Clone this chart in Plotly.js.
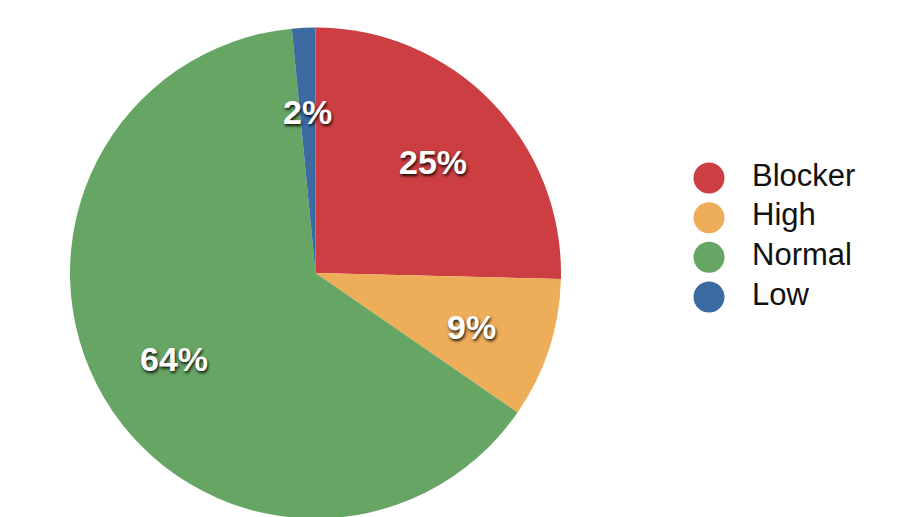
<!DOCTYPE html>
<html>
<head>
<meta charset="utf-8">
<script src="https://cdn.plot.ly/plotly-3.0.1.min.js"></script>
<style>
  html, body { margin: 0; padding: 0; width: 918px; height: 517px; overflow: hidden; background: #fff; }
  #chart { width: 918px; height: 560px; }
</style>
</head>
<body>
<div id="chart"></div>
<script>
// ---- data ----
const categories = ["Blocker", "High", "Normal", "Low"];
const counts = [33, 12, 83, 2];
const colors = ["#CD3E42", "#EEAD58", "#66A563", "#3A6AA0"];

// ---- geometry / style ----
const W = 918, H = 560;
const cxPx = 315.5, cyPx = 273, R = 245.5;
const labelFrac = 0.667;

const total = counts.reduce((a, b) => a + b, 0);

const pie = {
  type: "pie",
  values: counts,
  labels: categories,
  marker: { colors: colors, line: { width: 0 } },
  sort: false,
  direction: "clockwise",
  rotation: 0,
  textinfo: "none",
  hoverinfo: "label+percent",
  showlegend: false,
  domain: {
    x: [(cxPx - R) / W, (cxPx + R) / W],
    y: [1 - (cyPx + R) / H, 1 - (cyPx - R) / H]
  }
};

// legend drawn as a scatter on a hidden axis
const idx = categories.map((_, i) => i);
const legendMarkers = {
  type: "scatter",
  mode: "markers",
  x: categories.map(() => 0),
  y: idx,
  marker: { size: 31, color: colors, line: { width: 0 } },
  cliponaxis: false,
  hoverinfo: "skip",
  showlegend: false
};
const legendText = {
  type: "scatter",
  mode: "text",
  x: categories.map(() => 1),
  y: idx,
  text: categories,
  textposition: "middle right",
  textfont: { family: "Liberation Sans, Arial, sans-serif", size: 31, color: "#111" },
  cliponaxis: false,
  hoverinfo: "skip",
  showlegend: false
};

// percentage labels at 2/3 radius along each slice's mid-angle
const annotations = [];
let cum = 0;
counts.forEach((v) => {
  const mid = (cum + v / 2) / total * 2 * Math.PI;
  cum += v;
  const px = cxPx + labelFrac * R * Math.sin(mid);
  const py = cyPx - labelFrac * R * Math.cos(mid);
  annotations.push({
    xref: "paper", yref: "paper",
    x: px / W, y: 1 - py / H,
    xanchor: "center", yanchor: "middle",
    yshift: -3,
    showarrow: false,
    text: Math.round(v / total * 100) + "%",
    font: {
      family: "Liberation Sans, Arial, sans-serif", size: 34, color: "#ffffff",
      weight: 700, shadow: "1px 2px 3px rgba(0,0,0,0.85)"
    }
  });
});

const layout = {
  width: W, height: H,
  margin: { l: 0, r: 0, t: 0, b: 0 },
  paper_bgcolor: "#ffffff",
  plot_bgcolor: "rgba(0,0,0,0)",
  showlegend: false,
  xaxis: { domain: [709 / W, 752 / W], range: [0, 1], visible: false, fixedrange: true },
  yaxis: { domain: [1 - 297 / H, 1 - 178 / H], range: [3, 0], visible: false, fixedrange: true },
  annotations: annotations
};

Plotly.newPlot("chart", [legendMarkers, legendText, pie], layout, { displayModeBar: false, staticPlot: true });
</script>
</body>
</html>
